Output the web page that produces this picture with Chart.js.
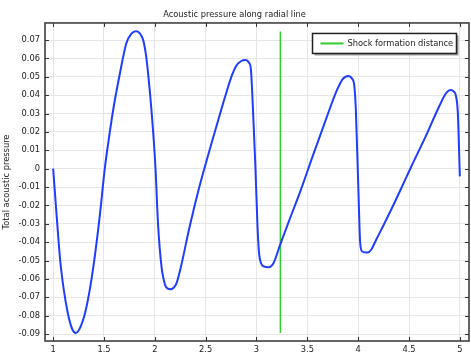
<!DOCTYPE html>
<html>
<head>
<meta charset="utf-8">
<script src="https://cdn.jsdelivr.net/npm/chart.js@4"></script>
<style>
    html, body { margin: 0; padding: 0; background: #fff; }
    #wrap { width: 471px; height: 354px; }
</style>
</head>
<body>
<div id="wrap"><canvas id="chart"></canvas></div>
<script>
// radial coordinate and total acoustic pressure
const radius = [
    1.0, 1.035, 1.069, 1.105, 1.144, 1.185, 1.223, 1.26, 1.314, 1.36, 1.405, 1.46, 1.51,
    1.555, 1.59, 1.657, 1.72, 1.77, 1.814, 1.85, 1.885, 1.91, 1.934, 1.967, 2.005,
    2.033, 2.066, 2.09, 2.108, 2.154, 2.185, 2.213, 2.25, 2.343, 2.44, 2.52,
    2.572, 2.703, 2.76, 2.80, 2.85, 2.892, 2.925, 2.945, 2.964, 2.99,
    3.01, 3.025, 3.045, 3.07, 3.12, 3.145, 3.167, 3.232, 3.33, 3.43, 3.552, 3.683,
    3.78, 3.846, 3.905, 3.94, 3.96, 3.977, 4.003, 4.02, 4.04,
    4.09, 4.13, 4.17, 4.27, 4.40, 4.517, 4.68, 4.81, 4.87,
    4.909, 4.94, 4.958, 4.98, 5.0
];
const pressure = [
    0.0, -0.026, -0.0497, -0.066, -0.0786, -0.087, -0.0894, -0.0872, -0.0786, -0.066, -0.0497, -0.025, 0.001,
    0.019, 0.0318, 0.0519, 0.0683, 0.0735, 0.0748, 0.0738, 0.0701, 0.063, 0.0519, 0.0318, 0.002,
    -0.0315, -0.0534, -0.061, -0.0643, -0.0657, -0.0648, -0.0624, -0.055, -0.0315, -0.0095, 0.0065,
    0.0165, 0.0413, 0.051, 0.0559, 0.0586, 0.0591, 0.0578, 0.054, 0.034, 0.0,
    -0.0315, -0.046, -0.0515, -0.0532, -0.0537, -0.053, -0.0515, -0.0415, -0.027, -0.0125, 0.0067, 0.0268,
    0.0413, 0.0486, 0.0504, 0.049, 0.046, 0.0322, -0.0133, -0.0406, -0.0451,
    -0.0457, -0.044, -0.0395, -0.0285, -0.0135, 0.0005, 0.0195, 0.0355, 0.0415,
    0.0428, 0.042, 0.0404, 0.0304, -0.0042
];
// shock formation distance marker
const shockX = [3.235, 3.235];
const shockY = [-0.0894, 0.0747];

const FONT = 'DejaVu Sans';
const fmt = v => String(Number(v.toFixed(3)));

const frame = {
    id: 'frame',
    beforeDatasetsDraw(chart) {
        const {ctx, chartArea: a, scales} = chart;
        ctx.save();
        ctx.strokeStyle = '#333';
        ctx.lineWidth = 1;
        ctx.beginPath();
        scales.x.ticks.forEach(t => {
            const x = Math.round(scales.x.getPixelForValue(t.value)) + 0.5;
            ctx.moveTo(x, a.top); ctx.lineTo(x, a.top + 4);
            ctx.moveTo(x, a.bottom); ctx.lineTo(x, a.bottom - 4);
        });
        scales.y.ticks.forEach(t => {
            const y = Math.round(scales.y.getPixelForValue(t.value)) + 0.5;
            ctx.moveTo(a.left, y); ctx.lineTo(a.left + 4, y);
            ctx.moveTo(a.right, y); ctx.lineTo(a.right - 4, y);
        });
        ctx.stroke();
        ctx.lineWidth = 1.5;
        ctx.strokeRect(a.left, a.top, a.right - a.left, a.bottom - a.top);
        ctx.restore();
    },
    afterDraw(chart) {
        const {ctx, chartArea: a} = chart;
        const w = 144, h = 20;
        const x = a.right - 12.5 - w, y = a.top + 10.5;
        ctx.save();
        ctx.fillStyle = '#999';
        ctx.fillRect(x + 2, y + 2, w, h);
        ctx.fillStyle = '#fff';
        ctx.fillRect(x, y, w, h);
        ctx.strokeStyle = '#222';
        ctx.lineWidth = 1.5;
        ctx.strokeRect(x, y, w, h);
        ctx.strokeStyle = '#33cc33';
        ctx.lineWidth = 2;
        ctx.beginPath();
        ctx.moveTo(x + 8, y + h / 2);
        ctx.lineTo(x + 31, y + h / 2);
        ctx.stroke();
        ctx.fillStyle = '#222';
        ctx.font = '8.3px "' + FONT + '"';
        ctx.textBaseline = 'middle';
        ctx.fillText('Shock formation distance', x + 35, y + h / 2 + 0.5);
        ctx.restore();
    }
};

new Chart(document.getElementById('chart'), {
    type: 'line',
    data: {
        datasets: [
            {
                data: radius.map((r, i) => ({x: r, y: pressure[i]})),
                borderColor: '#1f3dff',
                borderWidth: 2,
                pointRadius: 0,
                cubicInterpolationMode: 'monotone'
            },
            {
                data: shockX.map((r, i) => ({x: r, y: shockY[i]})),
                borderColor: '#33cc33',
                borderWidth: 1.5,
                pointRadius: 0
            }
        ]
    },
    options: {
        responsive: true,
        maintainAspectRatio: false,
        animation: false,
        layout: {padding: {left: 0, right: 2, top: 0, bottom: 0}},
        plugins: {
            legend: {display: false},
            tooltip: {enabled: false},
            title: {
                display: true,
                text: 'Acoustic pressure along radial line',
                color: '#222',
                font: {family: FONT, size: 8.3, weight: 'normal'},
                padding: {top: 10, bottom: 3}
            }
        },
        scales: {
            x: {
                type: 'linear',
                min: 0.92,
                max: 5.09,
                ticks: {stepSize: 0.5, includeBounds: false, padding: 4, maxRotation: 0,
                        color: '#222', font: {family: FONT, size: 8.3}, callback: v => fmt(v)},
                grid: {color: '#e6e6e6', drawTicks: false},
                border: {display: false},
                afterFit: s => { s.height = 13; }
            },
            y: {
                min: -0.0938,
                max: 0.0793,
                ticks: {stepSize: 0.01, includeBounds: false, padding: 5,
                        color: '#222', font: {family: FONT, size: 8.3}, callback: v => fmt(v)},
                grid: {color: '#e6e6e6', drawTicks: false},
                border: {display: false},
                title: {display: true, text: 'Total acoustic pressure', color: '#222',
                        font: {family: FONT, size: 8.3}, padding: {top: 2, bottom: 2}},
                afterFit: s => { s.width = 45; }
            }
        }
    },
    plugins: [frame]
});
</script>
</body>
</html>
